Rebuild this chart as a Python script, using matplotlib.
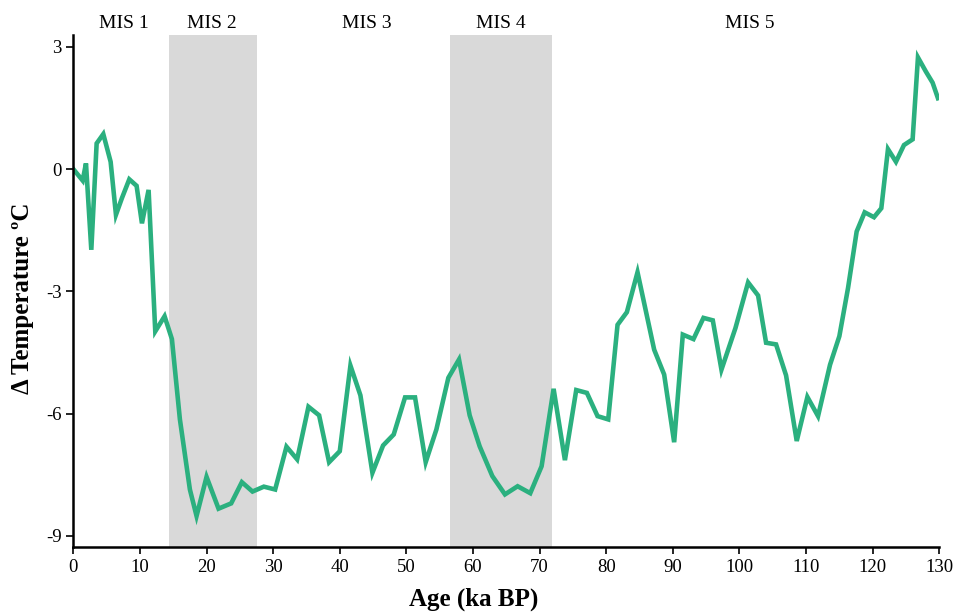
import matplotlib
matplotlib.use("Agg")
import matplotlib.pyplot as plt

age = [0.0, 1.4, 1.9, 2.7, 3.5, 4.5, 5.6, 6.4, 7.3, 8.4, 9.5, 10.3, 11.3,
       12.3, 13.7, 14.8, 16.0, 17.5, 18.5, 20.0, 21.8, 23.7, 25.3, 26.9,
       28.6, 30.3, 32.0, 33.6, 35.3, 36.9, 38.4, 40.0, 41.6, 43.1, 44.9,
       46.5, 48.1, 49.8, 51.3, 52.9, 54.5, 56.3, 57.9, 59.5, 61.0, 62.9,
       64.8, 66.7, 68.6, 70.3, 72.1, 73.8, 75.5, 77.1, 78.7, 80.3, 81.7,
       83.1, 84.7, 87.2, 88.7, 90.2, 91.5, 93.1, 94.6, 96.0, 97.3, 99.4,
       101.3, 102.8, 104.0, 105.5, 107.0, 108.6, 110.2, 111.8, 113.6,
       115.0, 116.3, 117.6, 118.8, 120.2, 121.3, 122.3, 123.5, 124.7,
       126.0, 126.8, 128.0, 129.0, 129.8]
temp = [0.0, -0.28, 0.14, -1.98, 0.63, 0.86, 0.18, -1.12, -0.71, -0.25,
        -0.41, -1.33, -0.51, -3.98, -3.61, -4.17, -6.14, -7.86, -8.51,
        -7.55, -8.33, -8.20, -7.68, -7.91, -7.79, -7.86, -6.81, -7.12,
        -5.83, -6.04, -7.19, -6.92, -4.82, -5.55, -7.45, -6.78, -6.51,
        -5.60, -5.60, -7.19, -6.39, -5.12, -4.67, -6.04, -6.80, -7.53,
        -7.98, -7.78, -7.95, -7.29, -5.39, -7.14, -5.42, -5.49, -6.06,
        -6.14, -3.82, -3.51, -2.53, -4.43, -5.04, -6.70, -4.06, -4.17,
        -3.65, -3.71, -4.92, -3.90, -2.78, -3.10, -4.26, -4.30, -5.06,
        -6.67, -5.59, -6.06, -4.80, -4.10, -2.92, -1.53, -1.06, -1.18,
        -0.96, 0.49, 0.18, 0.59, 0.73, 2.74, 2.39, 2.12, 1.74]

stages = ["MIS 1", "MIS 2", "MIS 3", "MIS 4", "MIS 5"]
stage_label_x = [7.6, 20.8, 44.1, 64.2, 101.6]
shaded_spans = [(14.3, 27.5), (56.5, 71.9)]

xticks = list(range(0, 131, 10))
yticks = [-9, -6, -3, 0, 3]

plt.rcParams['font.family'] = ['Liberation Serif', 'DejaVu Serif']
plt.rcParams['axes.unicode_minus'] = False

fig = plt.figure(figsize=(9.56, 6.13), dpi=100)
ax = fig.add_axes([0.0767, 0.1077, 0.9058, 0.8352])

for x0, x1 in shaded_spans:
    ax.axvspan(x0, x1, color='#d9d9d9', lw=0, zorder=0)

ax.plot(age, temp, color='#2bb07f', lw=3.3, solid_joinstyle='miter', zorder=2)

for xc, s in zip(stage_label_x, stages):
    ax.text(xc, 1.005, s, transform=ax.get_xaxis_transform(), ha='center',
            va='bottom', fontsize=14)

ax.set_xlim(0, 130)
ax.set_ylim(-9.27, 3.29)
ax.set_xticks(xticks)
ax.set_yticks(yticks)
ax.tick_params(axis='both', labelsize=13.5, length=5, width=1.2, direction='out', color='black')
for side in ['top', 'right']:
    ax.spines[side].set_visible(False)
for side in ['left', 'bottom']:
    ax.spines[side].set_linewidth(1.8)
    ax.spines[side].set_color('black')

ax.set_xlabel('Age (ka BP)', fontsize=18, fontweight='bold')
ax.set_ylabel('Δ Temperature ºC', fontsize=18, fontweight='bold')
ax.xaxis.set_label_coords(0.462, -0.080)
ax.yaxis.set_label_coords(-0.045, 0.486)

fig.savefig('out.png', dpi=100)
